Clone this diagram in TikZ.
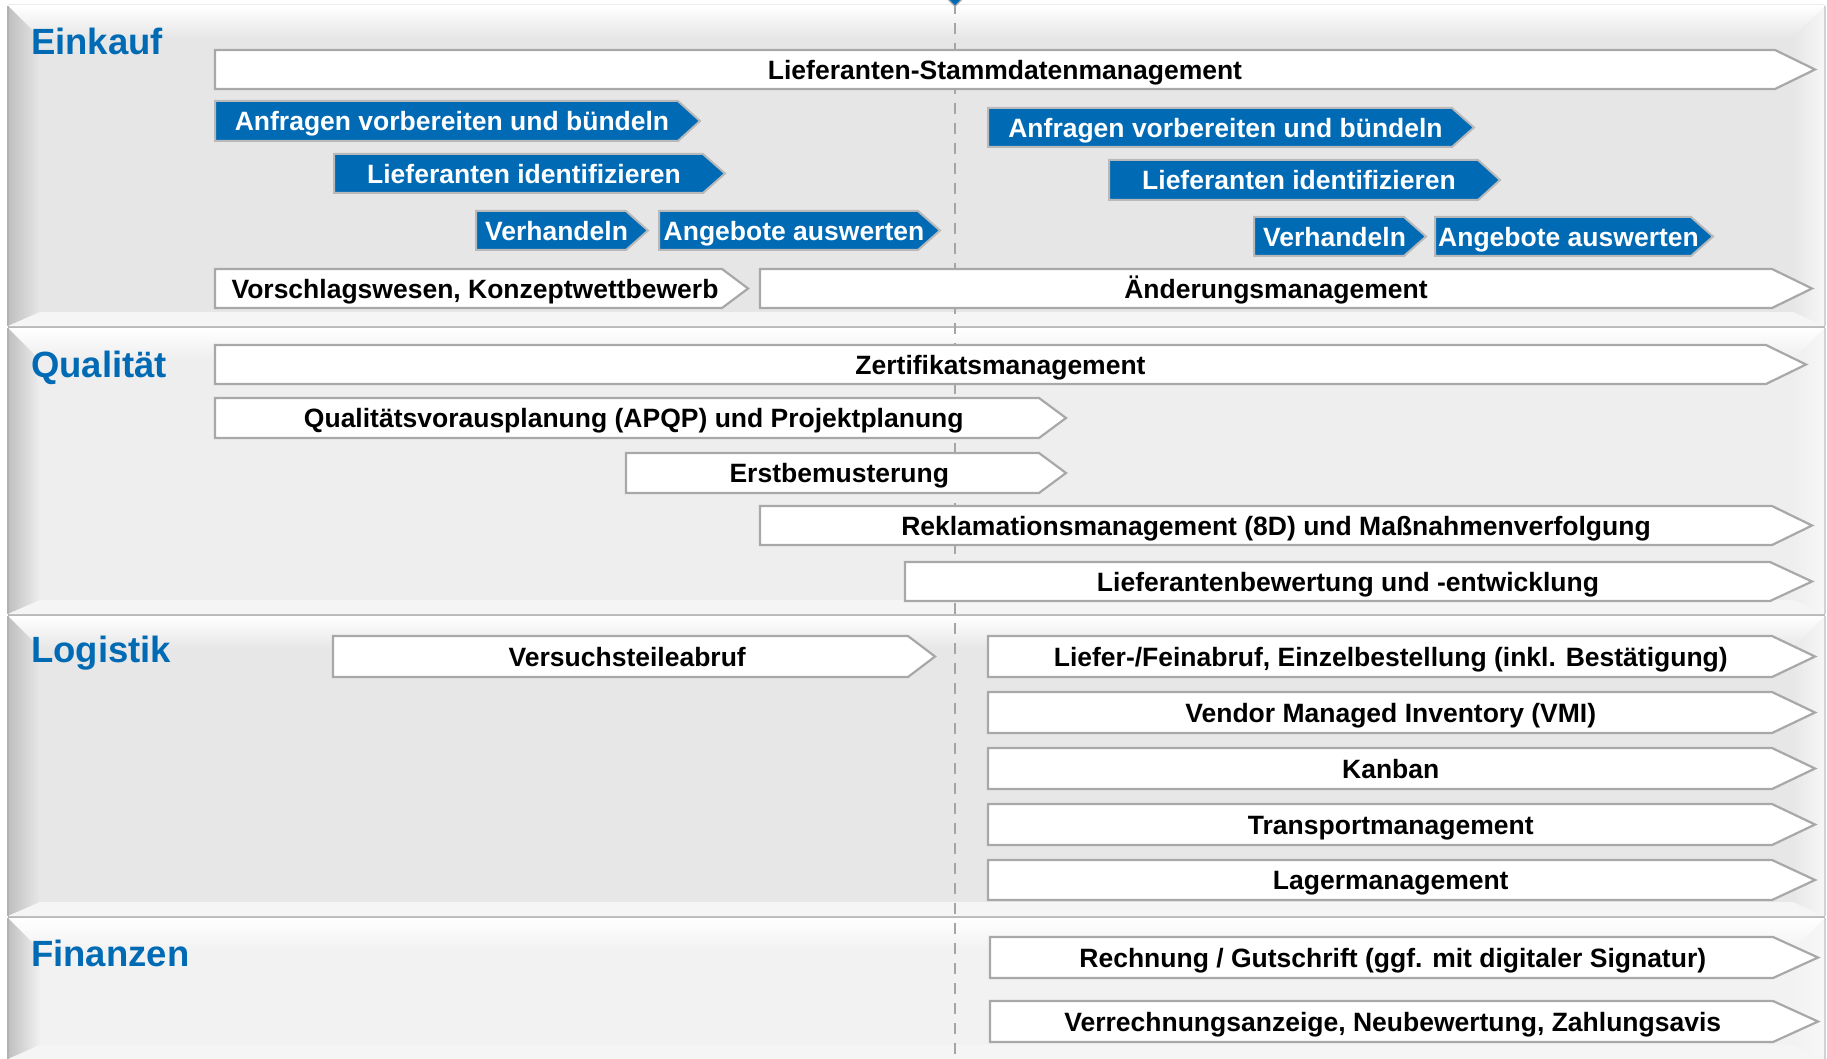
\documentclass[tikz,border=0pt]{standalone}
\usepackage{fontspec}
\setmainfont{Liberation Sans}
\usetikzlibrary{shapes.geometric}
\definecolor{sapblue}{RGB}{0,106,180}
\definecolor{bord}{RGB}{168,168,168}
\definecolor{bbord}{RGB}{185,185,185}
\definecolor{dashc}{RGB}{165,165,165}
\definecolor{bandA}{RGB}{230,230,230}
\definecolor{bandB}{RGB}{238,238,238}
\definecolor{bandC}{RGB}{231,231,231}
\definecolor{bandD}{RGB}{242,242,242}
\tikzset{
  wbar/.style={fill=white, draw=bord, line width=2.2pt, line join=miter},
  bbar/.style={fill=sapblue, draw=bbord, line width=2pt, line join=miter},
  wtxt/.style={font=\fontsize{26.5}{30}\selectfont\bfseries, text=black, inner sep=0pt, text height=19.5pt, text depth=0pt},
  btxt/.style={wtxt, text=white},
  lbl/.style={font=\fontsize{36.5}{40}\selectfont\bfseries, text=sapblue, anchor=base west, inner sep=0pt},
  dline/.style={draw=dashc, line width=2.6pt, dash pattern=on 11pt off 9pt},
}
% #1 bar style, #2 text style, #3 name, #4 x1, #5 y1, #6 xtip, #7 y2, #8 tip depth, #9 text
\newcommand\mychev[9]{%
  \draw[#1] (#4,#5) -- ({#6-#8},#5) -- (#6,{(#5+#7)/2}) -- ({#6-#8},#7) -- (#4,#7) -- cycle;
  \node[#2] (#3) at ({(#4+#6-#8/2)/2},{(#5+#7)/2}) {#9};
}
% #1 x1, #2 y1, #3 x2, #4 y2, #5 centre colour
\newcommand\myband[5]{%
  \fill[gray!55] (#1,{#4-2}) rectangle (#3,{#4+2});
  \fill[#5] (#1,#2) rectangle (#3,#4);
  \shade[top color=white, bottom color=#5] (#1,#2) -- (#3,#2) -- ({#3-32},{#2+32}) -- ({#1+32},{#2+32}) -- cycle;
  \shade[left color=gray!50, right color=#5] (#1,#2) -- ({#1+32},{#2+32}) -- ({#1+32},{#4-14}) -- (#1,#4) -- cycle;
  \shade[left color=#5, right color=gray!6] (#3,#2) -- ({#3-32},{#2+32}) -- ({#3-32},{#4-14}) -- (#3,#4) -- cycle;
  \fill[gray!8] (#1,#4) -- ({#1+32},{#4-14}) -- ({#3-32},{#4-14}) -- (#3,#4) -- cycle;
  \draw[gray!60, line width=1.5pt] (#1,#2) -- (#1,#4);
  \draw[gray!35, line width=1.5pt] (#3,#2) -- (#3,#4);
}
\begin{document}
\begin{tikzpicture}[x=1pt,y=-1pt]
\useasboundingbox (0,0) rectangle (1827,1059);
\fill[white] (0,0) rectangle (1827,1059);
\draw[gray!15, line width=1pt] (8,5) -- (1825,5);
% bands
\myband{8}{6}{1825}{326}{bandA}
\myband{8}{328}{1825}{614}{bandB}
\myband{8}{616}{1825}{916}{bandC}
\myband{8}{918}{1825}{1059}{bandD}
% band labels
\node[lbl] (einkauf) at (31,55) {Einkauf};
\node[lbl] (qualitaet) at (31,377) {Qualität};
\node[lbl] (logistik) at (31,662) {Logistik};
\node[lbl] (finanzen) at (31,966) {Finanzen};
% time marker line
\coordinate (mtop) at (955,3);
\coordinate (mbot) at (955,1059);
\draw[dline] (mtop) -- (mbot);
\node[diamond, fill=sapblue, draw=gray!70, line width=1.2pt, minimum width=15pt, minimum height=15pt, inner sep=0pt] (marker) at (955,-1) {};
% Einkauf
\mychev{wbar}{wtxt}{stamm}{215}{50}{1815}{89}{40}{Lieferanten-Stammdatenmanagement}
\mychev{bbar}{btxt}{anfL}{215}{101}{700}{141}{22}{Anfragen vorbereiten und bündeln}
\mychev{bbar}{btxt}{anfR}{988}{108}{1474}{147}{22}{Anfragen vorbereiten und bündeln}
\mychev{bbar}{btxt}{liefL}{334}{154}{725}{193}{22}{Lieferanten identifizieren}
\mychev{bbar}{btxt}{liefR}{1109}{160}{1500}{200}{22}{Lieferanten identifizieren}
\mychev{bbar}{btxt}{verhL}{476}{211}{648}{250}{22}{Verhandeln}
\mychev{bbar}{btxt}{angL}{659}{211}{940}{250}{22}{Angebote auswerten}
\mychev{bbar}{btxt}{verhR}{1254}{217}{1426}{256}{22}{Verhandeln}
\mychev{bbar}{btxt}{angR}{1435}{217}{1713}{256}{22}{Angebote auswerten}
\mychev{wbar}{wtxt}{vorschl}{215}{269}{748}{308}{26}{Vorschlagswesen, Konzeptwettbewerb}
\mychev{wbar}{wtxt}{aender}{760}{269}{1812}{308}{40}{Änderungsmanagement}
% Qualitaet
\mychev{wbar}{wtxt}{zert}{215}{345}{1806}{384}{40}{Zertifikatsmanagement}
\mychev{wbar}{wtxt}{apqp}{215}{398}{1066}{438}{27}{Qualitätsvorausplanung (APQP) und Projektplanung}
\mychev{wbar}{wtxt}{erst}{626}{453}{1066}{493}{27}{Erstbemusterung}
\mychev{wbar}{wtxt}{rekl}{760}{506}{1812}{545}{40}{Reklamationsmanagement (8D) und Maßnahmenverfolgung}
\mychev{wbar}{wtxt}{bew}{905}{562}{1812}{601}{42}{Lieferantenbewertung und -entwicklung}
% Logistik
\mychev{wbar}{wtxt}{versuch}{333}{636}{935}{677}{27}{Versuchsteileabruf}
\mychev{wbar}{wtxt}{abruf}{988}{636}{1815}{677}{43}{Liefer-/Feinabruf, Einzelbestellung (inkl. Bestätigung)}
\mychev{wbar}{wtxt}{vmi}{988}{692}{1815}{733}{43}{Vendor Managed Inventory (VMI)}
\mychev{wbar}{wtxt}{kanban}{988}{748}{1815}{789}{43}{Kanban}
\mychev{wbar}{wtxt}{trans}{988}{804}{1815}{845}{43}{Transportmanagement}
\mychev{wbar}{wtxt}{lager}{988}{860}{1815}{900}{43}{Lagermanagement}
% Finanzen
\mychev{wbar}{wtxt}{rech}{990}{937}{1818}{978}{45}{Rechnung / Gutschrift (ggf. mit digitaler Signatur)}
\mychev{wbar}{wtxt}{verr}{990}{1001}{1818}{1042}{45}{Verrechnungsanzeige, Neubewertung, Zahlungsavis}
\end{tikzpicture}
\end{document}
